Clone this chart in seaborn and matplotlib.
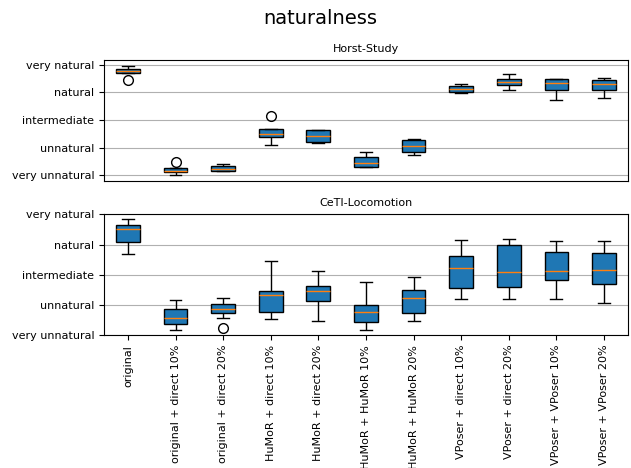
import matplotlib
matplotlib.use("Agg")
import matplotlib.pyplot as plt
import seaborn as sns
import pandas as pd

categories = [
    "original",
    "original + direct 10%",
    "original + direct 20%",
    "HuMoR + direct 10%",
    "HuMoR + direct 20%",
    "HuMoR + HuMoR 10%",
    "HuMoR + HuMoR 20%",
    "VPoser + direct 10%",
    "VPoser + direct 20%",
    "VPoser + VPoser 10%",
    "VPoser + VPoser 20%",
]
rating_labels = ["very unnatural", "unnatural", "intermediate", "natural", "very natural"]
rating_values = [1, 2, 3, 4, 5]

# Horst-Study box summaries (whisker low, Q1, median, Q3, whisker high, outliers)
horst_low = [4.70, 1.00, 1.14, 2.11, 2.15, 1.29, 1.73, 3.98, 4.09, 3.71, 3.81]
horst_q1 = [4.70, 1.11, 1.14, 2.39, 2.21, 1.29, 1.85, 4.00, 4.27, 4.09, 4.09]
horst_med = [4.78, 1.16, 1.21, 2.50, 2.42, 1.43, 2.05, 4.13, 4.38, 4.35, 4.32]
horst_q3 = [4.86, 1.24, 1.33, 2.66, 2.63, 1.64, 2.26, 4.25, 4.48, 4.48, 4.46]
horst_high = [4.97, 1.24, 1.40, 2.66, 2.63, 1.85, 2.32, 4.32, 4.68, 4.50, 4.53]
horst_fliers = [[4.45], [1.47], [], [3.14], [], [], [], [], [], [], []]

# CeTI-Locomotion box summaries
ceti_low = [3.70, 1.17, 1.58, 1.53, 1.48, 1.16, 1.48, 2.21, 2.21, 2.21, 2.07]
ceti_q1 = [4.08, 1.37, 1.72, 1.76, 2.14, 1.42, 1.73, 2.55, 2.60, 2.83, 2.68]
ceti_med = [4.51, 1.56, 1.88, 2.32, 2.46, 1.77, 2.23, 3.21, 3.10, 3.13, 3.15]
ceti_q3 = [4.64, 1.85, 2.03, 2.46, 2.64, 2.00, 2.51, 3.62, 3.97, 3.75, 3.72]
ceti_high = [4.86, 2.15, 2.24, 3.44, 3.11, 2.75, 2.94, 4.16, 4.19, 4.12, 4.13]
ceti_fliers = [[], [], [1.24], [], [], [], [], [], [], [], []]


def build_frame(low, q1, med, q3, high, fliers):
    rows = []
    for i, cat in enumerate(categories):
        lo_part = [low[i], q1[i]]
        hi_part = [q3[i], high[i]]
        fl = fliers[i]
        if fl and fl[0] < q1[i]:
            lo_part = [fl[0], low[i]]
        elif fl:
            hi_part = [high[i], fl[0]]
        vals = lo_part + [q1[i], med[i], med[i], med[i], q3[i]] + hi_part
        for v in vals:
            rows.append({"condition": cat, "score": v})
    return pd.DataFrame(rows)


horst_df = build_frame(horst_low, horst_q1, horst_med, horst_q3, horst_high, horst_fliers)
ceti_df = build_frame(ceti_low, ceti_q1, ceti_med, ceti_q3, ceti_high, ceti_fliers)

fig, axes = plt.subplots(2, 1, figsize=(6.31, 4.68), dpi=100, sharex=True)
fig.subplots_adjust(left=0.165, right=0.995, top=0.872, bottom=0.284, hspace=0.28)

box_kws = dict(
    order=categories,
    color="C0",
    saturation=1,
    width=0.5,
    linecolor="black",
    linewidth=1,
    medianprops=dict(color="C1", linewidth=1),
    flierprops=dict(marker="o", markerfacecolor="none", markeredgecolor="black",
                    markersize=7, markeredgewidth=1),
)

for ax, df, title in [(axes[0], horst_df, "Horst-Study"), (axes[1], ceti_df, "CeTI-Locomotion")]:
    sns.boxplot(data=df, x="condition", y="score", ax=ax, **box_kws)
    ax.set_title(title, fontsize=8)
    ax.set_xlabel("")
    ax.set_ylabel("")
    ax.set_yticks(rating_values)
    ax.set_yticklabels(rating_labels, fontsize=8)
    ax.yaxis.grid(True, color="#b0b0b0", linewidth=0.8)
    ax.set_axisbelow(True)

axes[0].set_ylim(0.8, 5.18)
axes[1].set_ylim(1, 5)
axes[0].tick_params(axis="x", bottom=False, labelbottom=False)
axes[1].set_xticks(range(len(categories)))
axes[1].set_xticklabels(categories, rotation=90, fontsize=8)
axes[1].set_xlim(-0.5, len(categories) - 0.5)

fig.suptitle("naturalness", fontsize=14, x=0.508, y=0.98)
fig.savefig("out.png", dpi=100)
